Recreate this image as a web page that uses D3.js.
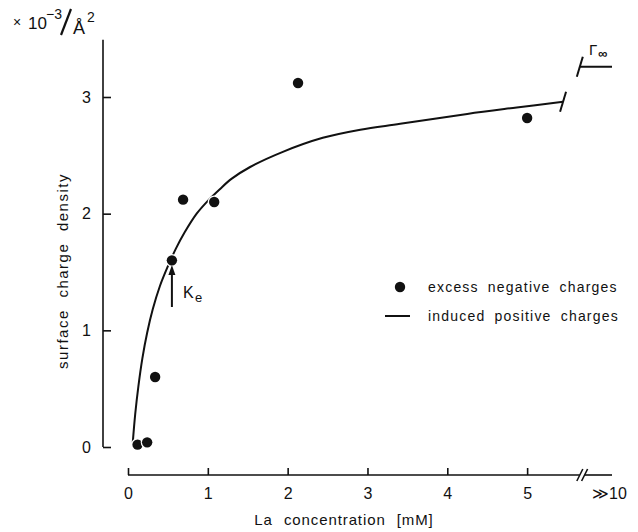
<!DOCTYPE html>
<html>
<head>
<meta charset="utf-8">
<script src="https://cdn.jsdelivr.net/npm/d3@7"></script>
<style>
  body { margin: 0; background: #fff; }
  text { font-family: "Liberation Sans", Arial, Helvetica, sans-serif; fill: #111; }
</style>
</head>
<body>
<svg id="chart" width="638" height="532"></svg>
<script>
// La3+ binding: measured excess negative charges (dots) and the induced positive charge isotherm (line)
const concTicks = [0, 1, 2, 3, 4, 5];
const concTickLabels = ["0", "1", "2", "3", "4", "5"];
const farConc = 10;
const farConcLabel = "\u226B10";
const chargeTicks = [0, 1, 2, 3];
const chargeTickLabels = ["0", "1", "2", "3"];

// excess negative charges (dots)
const excessConc   = [0.12, 0.24, 0.34, 0.55, 0.69, 1.08, 2.13, 5.0];
const excessCharge = [0.02, 0.04, 0.60, 1.60, 2.12, 2.10, 3.12, 2.82];

// induced positive charges (solid line)
const isoConc   = [0.06, 0.09, 0.13, 0.18, 0.24, 0.31, 0.40, 0.50, 0.60, 0.71, 0.86, 1.00, 1.15, 1.30, 1.53, 1.94, 2.44, 2.91, 3.41, 4.25, 4.87, 5.45];
const isoCharge = [0.04, 0.28, 0.52, 0.76, 0.98, 1.18, 1.38, 1.55, 1.70, 1.84, 2.00, 2.11, 2.21, 2.30, 2.40, 2.53, 2.65, 2.72, 2.77, 2.855, 2.91, 2.96];

const gammaInf = 3.26;   // saturation value at very high concentration
const keConc = 0.55;     // K_e marked by the arrow

const svg = d3.select("#chart");
svg.append("rect").attr("width", 638).attr("height", 532).attr("fill", "#fff");

// broken concentration axis: linear up to the break, compressed beyond it
const x = d3.scaleLinear().domain([0, 5.75, farConc]).range([128, 587, 612]);
const y = d3.scaleLinear().domain([0, 3]).range([447, 97]);
const ink = "#111";

// ---- x axis ----
const xAxisY = 475;
const gx = svg.append("g").attr("transform", `translate(0,${xAxisY})`)
  .call(d3.axisBottom(x).tickValues(concTicks.concat([farConc]))
    .tickFormat((d, i) => i < concTickLabels.length ? concTickLabels[i] : farConcLabel)
    .tickSizeInner(-7).tickSizeOuter(0).tickPadding(13));
gx.select(".domain").remove();
gx.selectAll(".tick line").attr("stroke", ink).attr("stroke-width", 1.6)
  .filter(d => d === farConc).remove();
gx.selectAll(".tick text").style("font-size", "16px").attr("fill", ink)
  .filter(d => d === farConc).attr("dx", "-3px");
gx.append("line").attr("x1", x(0)).attr("x2", x(5.66)).attr("stroke", ink).attr("stroke-width", 1.6);
gx.append("line").attr("x1", x(5.72)).attr("x2", x(farConc)).attr("stroke", ink).attr("stroke-width", 1.6);
[5.66, 5.72].forEach(c => {
  gx.append("line").attr("x1", x(c) - 3).attr("y1", 6).attr("x2", x(c) + 3).attr("y2", -6)
    .attr("stroke", ink).attr("stroke-width", 1.6);
});

svg.append("text").attr("x", 344).attr("y", 525).attr("text-anchor", "middle")
  .style("font-size", "15px").style("letter-spacing", "0.9px").style("word-spacing", "6px")
  .text("La concentration [mM]");

// ---- y axis ----
const yAxisX = 103;
const gy = svg.append("g").attr("transform", `translate(${yAxisX},0)`)
  .call(d3.axisLeft(y).tickValues(chargeTicks).tickFormat((d, i) => chargeTickLabels[i])
    .tickSizeInner(-8).tickSizeOuter(0).tickPadding(12));
gy.select(".domain").remove();
gy.selectAll(".tick line").attr("stroke", ink).attr("stroke-width", 1.6);
gy.selectAll(".tick text").style("font-size", "16px").attr("fill", ink);
gy.append("line").attr("y1", y(0)).attr("y2", y(3.49)).attr("stroke", ink).attr("stroke-width", 1.6);

svg.append("text").attr("transform", "translate(68,271) rotate(-90)").attr("text-anchor", "middle")
  .style("font-size", "15px").style("letter-spacing", "1.5px").style("word-spacing", "6px")
  .text("surface charge density");

// unit label  × 10^-3 / Å^2
const unit = svg.append("g");
unit.append("text").attr("x", 13).attr("y", 27).style("font-size", "14px").text("\u00D7");
unit.append("text").attr("x", 28).attr("y", 29).style("font-size", "17px").text("10");
unit.append("text").attr("x", 46).attr("y", 19).style("font-size", "14px").text("\u22123");
unit.append("line").attr("x1", 61).attr("y1", 35).attr("x2", 71).attr("y2", 9)
  .attr("stroke", ink).attr("stroke-width", 2.2);
unit.append("text").attr("x", 73).attr("y", 34).style("font-size", "18px").text("\u00C5");
unit.append("text").attr("x", 87).attr("y", 22).style("font-size", "14px").text("2");

// ---- isotherm line ----
const line = d3.line().x(d => x(d[0])).y(d => y(d[1])).curve(d3.curveCatmullRom.alpha(0.5));
const iso = isoConc.map((c, i) => [c, isoCharge[i]]);
svg.append("path").datum(iso).attr("d", line).attr("fill", "none")
  .attr("stroke", ink).attr("stroke-width", 2);

// break mark at the end of the curve
const last = iso[iso.length - 1];
svg.append("line").attr("x1", x(last[0]) - 3).attr("y1", y(last[1]) + 10)
  .attr("x2", x(last[0]) + 3).attr("y2", y(last[1]) - 10)
  .attr("stroke", ink).attr("stroke-width", 2);

// saturation level at very high concentration
const gStart = x(5.66);
svg.append("line").attr("x1", gStart).attr("x2", x(farConc)).attr("y1", y(gammaInf)).attr("y2", y(gammaInf))
  .attr("stroke", ink).attr("stroke-width", 2);
svg.append("line").attr("x1", gStart - 3).attr("y1", y(gammaInf) + 10)
  .attr("x2", gStart + 3).attr("y2", y(gammaInf) - 10)
  .attr("stroke", ink).attr("stroke-width", 2);
svg.append("text").attr("x", 589).attr("y", 55).style("font-size", "15px").text("\u0393");
svg.append("text").attr("x", 598).attr("y", 58).style("font-size", "13px").style("font-weight", "bold").text("\u221E");

// ---- measured points ----
svg.append("g").selectAll("circle")
  .data(excessConc.map((c, i) => [c, excessCharge[i]]))
  .join("circle")
  .attr("cx", d => x(d[0])).attr("cy", d => y(d[1])).attr("r", 5.2)
  .attr("fill", ink).attr("stroke", "#fff").attr("stroke-width", 2.5)
  .attr("paint-order", "stroke");

// ---- K_e arrow ----
const ax = x(keConc);
svg.append("line").attr("x1", ax).attr("x2", ax).attr("y1", y(1.2)).attr("y2", y(1.5))
  .attr("stroke", ink).attr("stroke-width", 2);
svg.append("path")
  .attr("d", `M${ax},${y(1.56)} L${ax - 3.5},${y(1.56) + 10} L${ax + 3.5},${y(1.56) + 10} Z`)
  .attr("fill", ink);
svg.append("text").attr("x", 183).attr("y", 298).style("font-size", "16px").text("K");
svg.append("text").attr("x", 195).attr("y", 302).style("font-size", "13px").text("e");

// ---- legend ----
const lg = svg.append("g");
lg.append("circle").attr("cx", 400).attr("cy", 287).attr("r", 5.2).attr("fill", ink);
lg.append("text").attr("x", 428).attr("y", 292).style("font-size", "14px")
  .style("letter-spacing", "1.2px").style("word-spacing", "4px").text("excess negative charges");
lg.append("line").attr("x1", 385).attr("x2", 410).attr("y1", 316).attr("y2", 316)
  .attr("stroke", ink).attr("stroke-width", 2);
lg.append("text").attr("x", 428).attr("y", 321).style("font-size", "14px")
  .style("letter-spacing", "1.2px").style("word-spacing", "4px").text("induced positive charges");
</script>
</body>
</html>
